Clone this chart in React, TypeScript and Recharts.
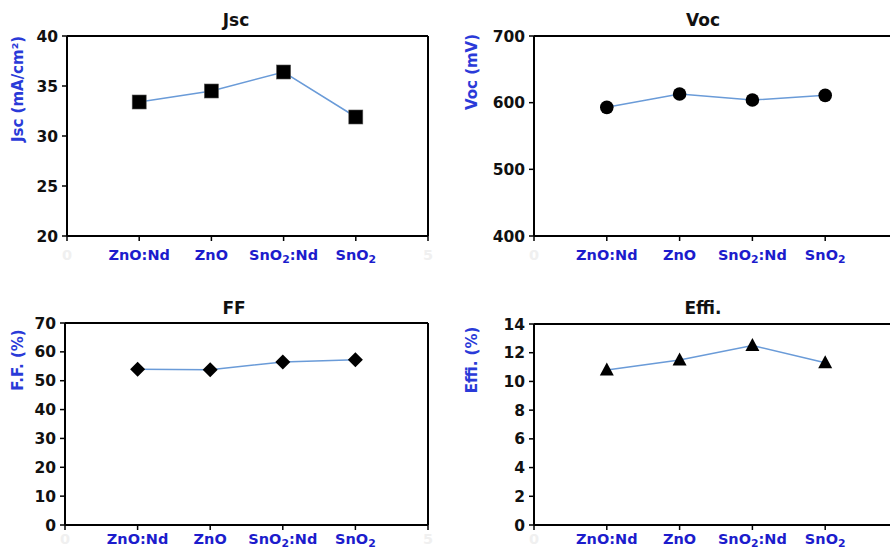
import { Line, LineChart, ReferenceLine, XAxis, YAxis } from "recharts";

const categories = ["ZnO:Nd", "ZnO", "SnO2:Nd", "SnO2"];
const xTicks = [0, 1, 2, 3, 4, 5];

const jscValues = [33.4, 34.5, 36.4, 31.9];
const vocValues = [593, 613, 604, 611];
const ffValues = [54.0, 53.8, 56.5, 57.3];
const effValues = [10.8, 11.5, 12.5, 11.3];

const jscTicks = [20, 25, 30, 35, 40];
const vocTicks = [400, 500, 600, 700];
const ffTicks = [0, 10, 20, 30, 40, 50, 60, 70];
const effTicks = [0, 2, 4, 6, 8, 10, 12, 14];

const FONT = "Verdana, 'DejaVu Sans', sans-serif";
const LINE_COLOR = "#6a9bd8";
const CAT_BLUE = "#1c1ccc";
const LABEL_BLUE = "#2a3ad8";

const toRows = (values: number[]) => values.map((y, i) => ({ x: i + 1, name: categories[i], y }));

// renders "SnO2" with a real subscript 2
function Formula({ text }: { text: string }) {
  const parts = text.split("2");
  return (
    <>
      {parts.map((p, i) => (
        <tspan key={i}>
          {p}
          {i < parts.length - 1 && (
            <tspan baselineShift={-3} fontSize="0.75em">
              2
            </tspan>
          )}
        </tspan>
      ))}
    </>
  );
}

function CategoryTick(props: any) {
  const { x, y, payload, dy, limit } = props;
  const v = payload.value;
  const isCat = v >= 1 && v <= 4;
  if (!isCat && x > limit) return null;
  return (
    <text
      x={x}
      y={y}
      dy={dy}
      textAnchor="middle"
      fontFamily={FONT}
      fontWeight="bold"
      fontSize={14.5}
      fill={isCat ? CAT_BLUE : "#f0f0f0"}
    >
      <Formula text={isCat ? categories[v - 1] : String(v)} />
    </text>
  );
}

function Marker(props: any) {
  const { cx, cy, kind } = props;
  if (cx == null || cy == null) return null;
  if (kind === "square")
    return <rect x={cx - 7} y={cy - 7} width={14} height={14} fill="#000" stroke="#555" strokeWidth={0.6} />;
  if (kind === "circle") return <circle cx={cx} cy={cy} r={6.8} fill="#000" />;
  if (kind === "diamond")
    return <polygon points={`${cx},${cy - 7.5} ${cx + 7.5},${cy} ${cx},${cy + 7.5} ${cx - 7.5},${cy}`} fill="#000" />;
  return <polygon points={`${cx},${cy - 7.5} ${cx + 7},${cy + 5.5} ${cx - 7},${cy + 5.5}`} fill="#000" />;
}

interface PanelProps {
  left: number;
  top: number;
  width: number;
  height: number;
  marginTop: number;
  yWidth: number;
  xHeight: number;
  xLabelDy: number;
  values: number[];
  yTicks: number[];
  marker: string;
}

function Panel(p: PanelProps) {
  const yDomain = [p.yTicks[0], p.yTicks[p.yTicks.length - 1]];
  return (
    <div style={{ position: "absolute", left: p.left, top: p.top }}>
      <LineChart
        width={p.width}
        height={p.height}
        data={toRows(p.values)}
        margin={{ top: p.marginTop, right: 17, bottom: 0, left: 0 }}
      >
        <XAxis
          type="number"
          dataKey="x"
          domain={[0, 5]}
          ticks={xTicks}
          interval={0}
          height={p.xHeight}
          axisLine={{ stroke: "#000", strokeWidth: 2 }}
          tickLine={{ stroke: "#000", strokeWidth: 1.5 }}
          tickSize={5}
          tick={(t: any) => <CategoryTick {...t} dy={p.xLabelDy} limit={860 - p.left} />}
        />
        <YAxis
          type="number"
          domain={yDomain}
          ticks={p.yTicks}
          interval={0}
          width={p.yWidth}
          axisLine={{ stroke: "#000", strokeWidth: 2 }}
          tickLine={{ stroke: "#000", strokeWidth: 1.5 }}
          tickSize={5}
          tickMargin={4}
          tick={{ fill: "#111", fontFamily: FONT, fontWeight: "bold", fontSize: 15.5 }}
        />
        <ReferenceLine y={yDomain[1]} stroke="#000" strokeWidth={2} />
        <ReferenceLine x={5} stroke="#000" strokeWidth={2} />
        <Line
          type="linear"
          dataKey="y"
          stroke={LINE_COLOR}
          strokeWidth={1.5}
          dot={(d: any) => <Marker key={`m${d.index}`} {...d} kind={p.marker} />}
          activeDot={false}
          isAnimationActive={false}
        />
      </LineChart>
    </div>
  );
}

const titles = [
  { text: "Jsc", x: 236, y: 26 },
  { text: "Voc", x: 703, y: 26 },
  { text: "FF", x: 234, y: 314 },
  { text: "Effi.", x: 703, y: 314 },
];

const yLabels = [
  { text: "Jsc (mA/cm²)", x: 23, y: 89 },
  { text: "Voc (mV)", x: 477, y: 72 },
  { text: "F.F. (%)", x: 23, y: 360 },
  { text: "Effi. (%)", x: 477, y: 360 },
];

export default function App() {
  return (
    <div
      style={{
        position: "absolute",
        left: 0,
        top: 0,
        width: 890,
        height: 551,
        overflow: "hidden",
        background: "#fff",
        fontFamily: FONT,
      }}
    >
      <Panel left={0} top={0} width={445} height={280} marginTop={36} yWidth={67} xHeight={44} xLabelDy={17}
        values={jscValues} yTicks={jscTicks} marker="square" />
      <Panel left={445} top={0} width={470} height={280} marginTop={36} yWidth={89} xHeight={44} xLabelDy={17}
        values={vocValues} yTicks={vocTicks} marker="circle" />
      <Panel left={0} top={280} width={445} height={271} marginTop={43} yWidth={65} xHeight={26} xLabelDy={11.5}
        values={ffValues} yTicks={ffTicks} marker="diamond" />
      <Panel left={445} top={280} width={470} height={271} marginTop={44} yWidth={89} xHeight={26} xLabelDy={11.5}
        values={effValues} yTicks={effTicks} marker="triangle" />

      <svg width={890} height={551} style={{ position: "absolute", left: 0, top: 0, pointerEvents: "none" }}>
        {titles.map((t) => (
          <text key={t.text} x={t.x} y={t.y} textAnchor="middle" fontFamily={FONT} fontWeight="bold" fontSize={17} fill="#111">
            {t.text}
          </text>
        ))}
        {yLabels.map((l) => (
          <text
            key={l.text}
            transform={`translate(${l.x} ${l.y}) rotate(-90)`}
            textAnchor="middle"
            fontFamily={FONT}
            fontWeight="bold"
            fontSize={15}
            fill={LABEL_BLUE}
          >
            {l.text}
          </text>
        ))}
      </svg>
    </div>
  );
}
